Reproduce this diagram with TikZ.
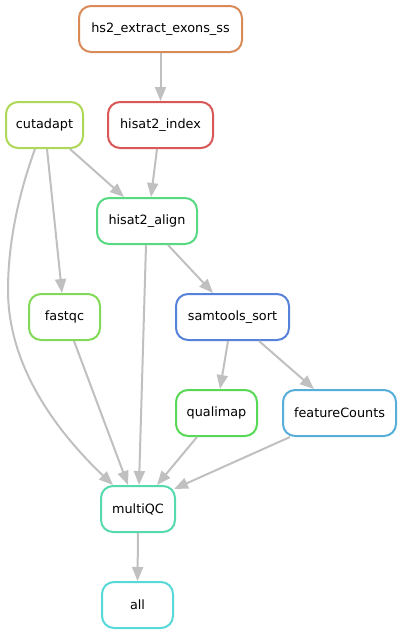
\documentclass[tikz,border=0pt]{standalone}
\usepackage{fontspec}
\setmainfont{DejaVu Sans}
\usetikzlibrary{arrows.meta}
\definecolor{cHs}{RGB}{217,139,87}
\definecolor{cIdx}{RGB}{217,87,87}
\definecolor{cCut}{RGB}{174,217,87}
\definecolor{cFqc}{RGB}{130,217,87}
\definecolor{cQm}{RGB}{87,217,87}
\definecolor{cAl}{RGB}{87,217,130}
\definecolor{cMqc}{RGB}{87,217,174}
\definecolor{cAll}{RGB}{87,217,217}
\definecolor{cFc}{RGB}{87,174,217}
\definecolor{cSs}{RGB}{87,130,217}
\definecolor{edgegray}{RGB}{192,192,192}
\tikzset{
  rule/.style={draw=#1, line width=2pt, rounded corners=12pt, fill=white,
    minimum height=46pt, inner sep=0pt,
    font=\fontsize{12.8}{15}\selectfont},
  link/.style={draw=edgegray, line width=2pt,
    -{Triangle[length=14pt,width=11pt]}}
}
\begin{document}
\begin{tikzpicture}[x=1pt,y=-1pt]
\useasboundingbox (0,0) rectangle (402,635);
\node[rule=cHs, minimum width=163pt] (hs) at (160.5,29) {hs2\_extract\_exons\_ss};
\node[rule=cCut, minimum width=77pt] (cut) at (44.5,125) {cutadapt};
\node[rule=cIdx, minimum width=105pt] (idx) at (160.5,125) {hisat2\_index};
\node[rule=cAl, minimum width=100pt] (al) at (147,221) {hisat2\_align};
\node[rule=cFqc, minimum width=71pt] (fqc) at (64.5,317) {fastqc};
\node[rule=cSs, minimum width=113pt] (ss) at (232.5,317) {samtools\_sort};
\node[rule=cQm, minimum width=81pt] (qm) at (216.5,413) {qualimap};
\node[rule=cFc, minimum width=113pt] (fc) at (339.5,413) {featureCounts};
\node[rule=cMqc, minimum width=74pt] (mqc) at (138,509) {multiQC};
\node[rule=cAll, minimum width=71pt] (all) at (137.5,605) {all};

\draw[link] (hs.south) -- (idx.north);
\draw[link] ([xshift=-3.5pt]idx.south) -- ([xshift=4pt]al.north);
\draw[link] ([xshift=25.5pt]cut.south) -- ([xshift=-23pt]al.north);
\draw[link] ([xshift=2.5pt]cut.south) -- ([xshift=-2.5pt]fqc.north);
\draw[link] ([xshift=-9.5pt]cut.south) .. controls (20,190) and (8,240) .. (8,290)
   .. controls (8,365) and (55,430) .. ([xshift=-25pt]mqc.north);
\draw[link] ([xshift=-1pt]al.south) -- ([xshift=1pt]mqc.north);
\draw[link] ([xshift=21pt]al.south) -- ([xshift=-19.5pt]ss.north);
\draw[link] ([xshift=9.5pt]fqc.south) -- ([xshift=-10pt]mqc.north);
\draw[link] ([xshift=-4.5pt]ss.south) -- ([xshift=3.5pt]qm.north);
\draw[link] ([xshift=26.5pt]ss.south) -- ([xshift=-25.5pt]fc.north);
\draw[link] ([xshift=-19.5pt]qm.south) -- ([xshift=19pt]mqc.north);
\draw[link] ([xshift=-49.5pt]fc.south) -- ([xshift=-2pt,yshift=-4pt]mqc.north east);
\draw[link] (mqc.south) -- (all.north);
\end{tikzpicture}
\end{document}
